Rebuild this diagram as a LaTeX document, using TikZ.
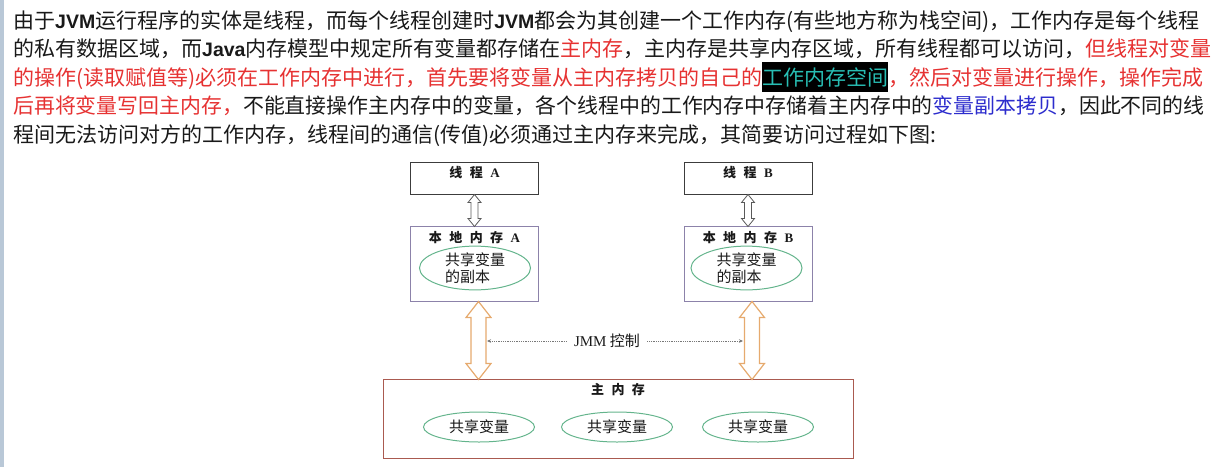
\documentclass[tikz,border=0pt]{standalone}
\usepackage{fontspec}
\setmainfont{Noto Sans CJK SC}
\newfontfamily\latin{Liberation Sans}
\newfontfamily\latinserif{Liberation Serif}
\newfontfamily\spaced[WordSpace=2.5]{Noto Sans CJK SC}
\usetikzlibrary{arrows.meta,shapes.geometric,calc}
\newcommand\lat[1]{{\latin\bfseries\fontsize{19.5}{28.5}\selectfont #1}}
\newcommand\hl[1]{{\setlength\fboxsep{0pt}\colorbox{black}{\rule[-7pt]{0pt}{30pt}\color{hlcyan}#1}}}

\begin{document}
\begin{tikzpicture}[x = 1pt, y = -1pt]
\definecolor{txtblack}{RGB}{25,25,25}
\definecolor{txtred}{RGB}{230,50,50}
\definecolor{txtblue}{RGB}{45,45,205}
\definecolor{hlcyan}{RGB}{40,190,180}
\definecolor{barblue}{RGB}{185,200,215}
\definecolor{threadgray}{RGB}{60,60,60}
\definecolor{localpurple}{RGB}{140,130,170}
\definecolor{mainbrown}{RGB}{170,90,80}
\definecolor{ellgreen}{RGB}{100,180,140}
\definecolor{arroworange}{RGB}{230,170,110}
\definecolor{arrowgray}{RGB}{90,90,90}
\definecolor{ctrlgray}{RGB}{120,120,120}
\tikzset{
  para/.style = {anchor = base west, inner sep = 0pt, text = txtblack, font = \fontsize{21}{28.5}\selectfont},
  thread/.style = {draw = threadgray, line width = 1pt, minimum width = 128pt, minimum height = 32pt},
  localmem/.style = {draw = localpurple, line width = 1pt, minimum width = 128pt, minimum height = 75pt},
  mainmem/.style = {draw = mainbrown, line width = 1pt, minimum width = 470pt, minimum height = 79pt},
  title/.style = {anchor = north, inner sep = 0pt, text = txtblack, font = \spaced\bfseries\fontsize{13}{15}\selectfont},
  shared/.style = {ellipse, draw = ellgreen, line width = 1pt, minimum width = 111pt, minimum height = 40pt, inner sep = 0pt, align = left, text = txtblack, font = \fontsize{15}{17}\selectfont},
  hollow/.style = {draw = arrowgray, fill = white, line width = 0.8pt},
  wide/.style = {draw = arroworange, fill = white, line width = 1.2pt},
  ctrl/.style = {draw = ctrlgray, densely dotted, line width = 0.8pt, -{Stealth[length = 4pt, width = 3.5pt]}},
  jmm/.style = {inner sep = 7pt, text = txtblack, font = \fontsize{15}{17}\selectfont}
}
\useasboundingbox (0,0) rectangle (1220,467);
\fill[barblue] (0,0) rectangle (4,467);
% paragraph
\node[para] (l1) at (13,28) {由于\lat{JVM}运行程序的实体是线程，而每个线程创建时\lat{JVM}都会为其创建一个工作内存(有些地方称为栈空间)，工作内存是每个线程};
\node[para] (l2) at (13,56.5) {的私有数据区域，而\lat{Java}内存模型中规定所有变量都存储在{\color{txtred}主内存}，主内存是共享内存区域，所有线程都可以访问，{\color{txtred}但线程对变量}};
\node[para] (l3) at (13,85) {{\color{txtred}的操作(读取赋值等)必须在工作内存中进行，首先要将变量从主内存拷贝的自己的}\hl{工作内存空间}{\color{txtred}，然后对变量进行操作，操作完成}};
\node[para, font = \fontsize{20.9}{28.5}\selectfont] (l4) at (13,113.5) {{\color{txtred}后再将变量写回主内存，}不能直接操作主内存中的变量，各个线程中的工作内存中存储着主内存中的{\color{txtblue}变量副本拷贝}，因此不同的线};
\node[para] (l5) at (13,142) {程间无法访问对方的工作内存，线程间的通信(传值)必须通过主内存来完成，其简要访问过程如下图:};
% threads and local memory
\node[thread, label = {[title, yshift = -5pt]north:线 程 {\latinserif A}}] (tA) at (474.5,178) {};
\node[thread, label = {[title, yshift = -5pt]north:线 程 {\latinserif B}}] (tB) at (748,178) {};
\node[localmem, label = {[title, yshift = -6pt]north:本 地 内 存 {\latinserif A}}] (lA) at (474.5,263.5) {};
\node[localmem, label = {[title, yshift = -6pt]north:本 地 内 存 {\latinserif B}}] (lB) at (748,263.5) {};
\node[shared] (eA) at (475,268) {共享变量\\的副本};
\node[shared] (eB) at (746.5,268) {共享变量\\的副本};
% main memory
\node[mainmem, label = {[title, yshift = -5pt]north:主 内 存}] (mem) at (618,418.5) {};
\foreach \x [count = \i] in {479,617,758} \node[shared, minimum height = 30pt] (s\i) at (\x,427) {共享变量};
% arrows
\foreach \n in {A,B} \draw[hollow] (t\n.south) -- ++(6.5,8) -- ++(-3,0) -- ++(0,16) -- ++(3,0) -- ++(-6.5,8) -- ++(-6.5,-8) -- ++(3,0) -- ++(0,-16) -- ++(-3,0) -- cycle;
\foreach \n in {A,B} \draw[wide] ($(l\n.south)+(4,0)$) -- ++(12.5,16) -- ++(-5,0) -- ++(0,46) -- ++(5,0) -- ++(-12.5,16) -- ++(-12.5,-16) -- ++(5,0) -- ++(0,-46) -- ++(-5,0) -- cycle;
\coordinate (jl) at (487,341);
\coordinate (jr) at (743,341);
\node[jmm] (ctl) at (607,341) {{\latinserif JMM} 控制};
\draw[ctrl] (ctl.west) -- (jl);
\draw[ctrl] (ctl.east) -- (jr);
\end{tikzpicture}
\end{document}
